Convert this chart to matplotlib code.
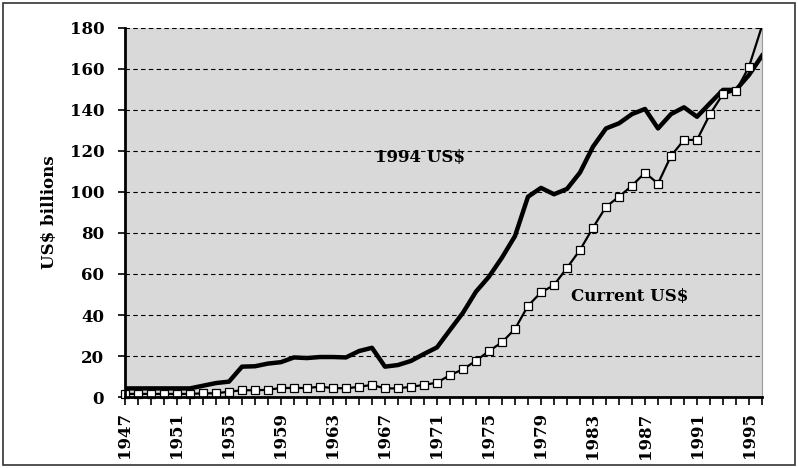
import matplotlib
matplotlib.use("Agg")
import matplotlib.pyplot as plt
from matplotlib.patches import Rectangle

years = list(range(1947, 1997))
# constant 1994 dollars
real_1994 = [4.2, 4.2, 4.2, 4.2, 4.2, 4.2, 5.5, 6.8, 7.5, 14.8,
             15.0, 16.3, 17.0, 19.3, 19.0, 19.5, 19.5, 19.3, 22.4, 24.0,
             14.8, 15.6, 17.6, 21.0, 24.2, 32.7, 41.1, 51.4, 58.7, 68.0,
             78.5, 97.7, 102.0, 98.9, 101.5, 109.5, 122.1, 131.0, 133.5, 138.0,
             140.5, 131.0, 138.0, 141.3, 136.7, 143.3, 149.8, 149.8, 157.1, 166.5]
# current dollars
current = [1.5, 1.5, 1.5, 1.5, 1.5, 1.5, 1.8, 1.8, 2.6, 3.3,
           3.3, 3.5, 4.4, 4.4, 4.4, 5.0, 4.4, 4.2, 5.0, 5.9,
           4.2, 4.2, 5.0, 5.9, 7.0, 10.7, 13.5, 17.7, 22.4, 26.7,
           33.2, 44.5, 51.0, 54.6, 63.0, 71.7, 82.6, 92.8, 97.7, 103.1,
           109.4, 104.1, 117.6, 125.4, 125.4, 138.0, 147.8, 149.3, 161.1, 181.0]
yticks = list(range(0, 181, 20))
label_years = list(range(1947, 1996, 4))

font = "DejaVu Serif"
fs = 12

fig = plt.figure(figsize=(7.98, 4.68), dpi=100)
ax = fig.add_axes([0.1566, 0.1517, 0.7983, 0.7885])
ax.set_facecolor("#d9d9d9")

ax.plot(years, real_1994, color="black", lw=3.2, zorder=3, solid_joinstyle="round")
ax.plot(years, current, color="black", lw=1.6, zorder=4)
ax.plot(years[:-1], current[:-1], ls="none", marker="s", ms=5.8, mfc="white",
        mec="black", mew=0.9, zorder=5, clip_on=False)

ax.set_xlim(1947, 1996)
ax.set_ylim(0, 180)
ax.set_yticks(yticks)
ax.set_xticks(years)
ax.set_xticklabels([str(y) if y in label_years else "" for y in years],
                   rotation=90, fontfamily=font, fontweight="bold", fontsize=fs)
for lab in ax.get_yticklabels():
    lab.set_fontfamily(font)
    lab.set_fontweight("bold")
    lab.set_fontsize(fs)

ax.grid(axis="y", color="black", ls=(0, (4, 3)), lw=0.8)
ax.set_axisbelow(True)
ax.tick_params(axis="x", direction="out", length=6, width=1.2, pad=5)
ax.tick_params(axis="y", direction="out", length=5, width=1.2, pad=10)

for side in ["left", "bottom"]:
    ax.spines[side].set_linewidth(2)
    ax.spines[side].set_zorder(6)
ax.spines["top"].set_visible(False)
ax.spines["right"].set_color("#999999")
ax.spines["right"].set_linewidth(0.8)

ax.set_ylabel("US$ billions", fontfamily=font, fontweight="bold", fontsize=fs, labelpad=8)

ax.text(1969.7, 117, "1994 US$", fontfamily=font, fontweight="bold", fontsize=fs,
        ha="center", va="center")
ax.text(1985.8, 48.8, "Current US$", fontfamily=font, fontweight="bold", fontsize=fs,
        ha="center", va="center")

fig.patches.append(Rectangle((0.004, 0.006), 0.992, 0.988, transform=fig.transFigure,
                             fill=False, edgecolor="#333333", lw=1.2))

fig.savefig("out.png", dpi=100)
